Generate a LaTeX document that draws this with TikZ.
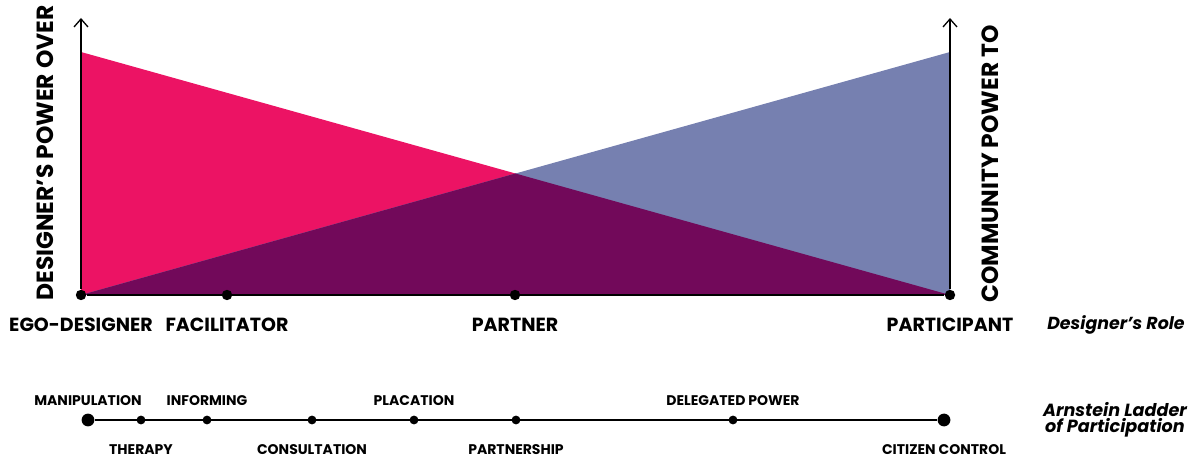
\documentclass[tikz,border=0pt]{standalone}
\usepackage{fontspec}
\setmainfont{Poppins}
\usepackage{xcolor}
\definecolor{egopink}{RGB}{236, 19, 100}
\definecolor{commblue}{RGB}{118, 128, 176}
\definecolor{sharedpurple}{RGB}{114, 9, 90}
\usetikzlibrary{arrows.meta,positioning}

\begin{document}
\begin{tikzpicture}[x=0.5pt, y=-0.5pt,
    roledot/.style={circle, fill=black, inner sep=0pt, minimum size=5.2pt},
    rungdot/.style={circle, fill=black, inner sep=0pt, minimum size=4.4pt},
    enddot/.style={circle, fill=black, inner sep=0pt, minimum size=6.4pt},
    rolelabel/.style={font=\fontsize{9.5}{11}\selectfont\bfseries},
    axislabel/.style={font=\fontsize{11.7}{14}\selectfont\bfseries, rotate=90},
    runglabel/.style={font=\fontsize{7}{8}\selectfont\bfseries},
    keylabel/.style={font=\fontsize{8.7}{7.6}\selectfont\bfseries\itshape, align=center}]
    \useasboundingbox (0, 0) rectangle (1194, 459);

    % Power triangles
    \fill[egopink] (81, 52) -- (81, 295) -- (950, 295) -- cycle;
    \fill[commblue] (950, 52) -- (950, 295) -- (81, 295) -- cycle;
    \fill[sharedpurple] (81, 295) -- (515.5, 173.5) -- (950, 295) -- cycle;

    % Designer's role axis
    \node[roledot] (ego) at (81, 295) {};
    \node[roledot] (fac) at (227, 295) {};
    \node[roledot] (partner) at (515, 295) {};
    \node[roledot] (part) at (950, 295) {};
    \draw[line width=0.75pt] (ego) -- (part);
    \draw[line width=0.65pt, -{Straight Barb[length=4pt, width=7pt]}] (ego) -- (81, 18);
    \draw[line width=0.65pt, -{Straight Barb[length=4pt, width=7pt]}] (part) -- (950, 18);

    \node[axislabel] (overlbl) at (45, 153) {DESIGNER’S POWER OVER};
    \node[axislabel] (tolbl) at (990, 164) {COMMUNITY POWER TO};

    \node[rolelabel] (egolbl) at (81, 325) {EGO-DESIGNER};
    \node[rolelabel] (faclbl) at (227, 325) {FACILITATOR};
    \node[rolelabel] (partnerlbl) at (515, 325) {PARTNER};
    \node[rolelabel] (partlbl) at (950, 325) {PARTICIPANT};
    \node[keylabel] (rolekey) at (1116, 325) {Designer’s Role};

    % Arnstein ladder
    \node[enddot] (manip) at (88, 420) {};
    \node[enddot] (control) at (944, 420) {};
    \draw[line width=0.75pt] (manip) -- (control);
    \foreach \name/\x in {therapy/141, inform/207, consult/312, placate/414, partnership/516, delegate/733} {
        \node[rungdot] (\name) at (\x, 420) {};
    }

    % Rung names, alternating above and below
    \foreach \name/\txt in {inform/INFORMING, placate/PLACATION, delegate/DELEGATED POWER} {
        \node[runglabel, above=1.2pt of \name] (\name lbl) {\txt};
    }
    \node[runglabel, above=0.2pt of manip] (maniplbl) {MANIPULATION};
    \foreach \name/\txt in {therapy/THERAPY, consult/CONSULTATION, partnership/PARTNERSHIP} {
        \node[runglabel, below=6.5pt of \name] (\name lbl) {\txt};
    }
    \node[runglabel, below=5.5pt of control] (controllbl) {CITIZEN CONTROL};

    \node[keylabel, font=\fontsize{8.8}{7.8}\selectfont\bfseries\itshape] (ladderkey) at (1115, 420) {Arnstein Ladder\\of Participation};
\end{tikzpicture}
\end{document}
